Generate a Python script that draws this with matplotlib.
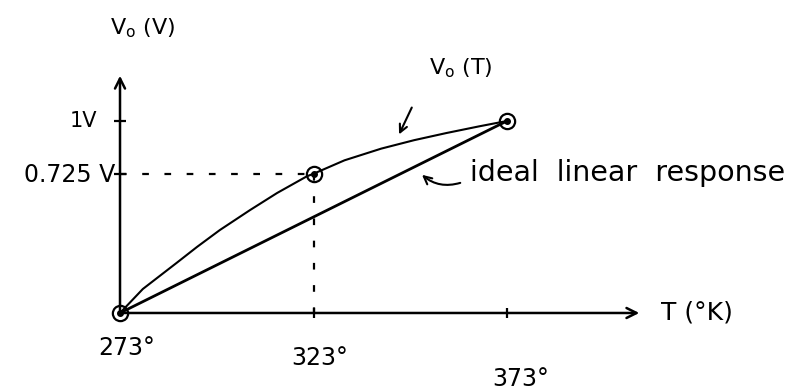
import matplotlib
matplotlib.use("Agg")
import matplotlib.pyplot as plt

# ---- data ----
T_points = [273, 323, 373]
V_points = [0.0, 0.725, 1.0]

# measured response curve V0(T)
T_curve = [273, 278.9, 287.7, 292.9, 298.8, 306.6, 313.6, 321.3, 323, 331.0, 340.5, 349.0, 357.3, 365.8, 373]
V_curve = [0.0, 0.125, 0.262, 0.344, 0.432, 0.536, 0.625, 0.712, 0.725, 0.795, 0.856, 0.900, 0.937, 0.972, 1.0]

# ideal linear response
T_ideal = [273, 373]
V_ideal = [0.0, 1.0]

x_tick_labels = ["273°", "323°", "373°"]
y_tick_values = [1.0, 0.725]
y_tick_labels = ["1V", "0.725 V"]

fig = plt.figure(figsize=(7.93, 3.92), dpi=100)
ax = fig.add_axes([0, 0, 1, 1])
ax.set_xlim(241.99, 446.9)
ax.set_ylim(-0.4115, 1.630)
ax.axis("off")

ink = "black"

# axes with arrows
ax.annotate("", xy=(407.9, 0), xytext=(273, 0),
            arrowprops=dict(arrowstyle="->", lw=1.8, color=ink, mutation_scale=18))
ax.annotate("", xy=(273, 1.25), xytext=(273, 0),
            arrowprops=dict(arrowstyle="->", lw=1.8, color=ink, mutation_scale=18))

# tick marks
ax.plot(T_points[1:], [0, 0], ls="none", marker="|", ms=7, mew=1.6, color=ink)
ax.plot([273] * len(y_tick_values), y_tick_values, ls="none", marker="_", ms=9, mew=1.6, color=ink)

# dashed guide lines
ax.plot([273, T_points[1]], [V_points[1], V_points[1]], ls=(0, (3, 7)), lw=1.6, color=ink)
ax.plot([T_points[1], T_points[1]], [V_points[1], 0], ls=(0, (3, 7)), lw=1.6, color=ink)

# curves
ax.plot(T_ideal, V_ideal, color=ink, lw=2.0, solid_capstyle="round")
ax.plot(T_curve, V_curve, color=ink, lw=1.5, solid_joinstyle="round")

# circled points
ax.plot(T_points, V_points, ls="none", marker="o", ms=11, mfc="none", mec=ink, mew=1.6)
ax.plot(T_points, V_points, ls="none", marker="o", ms=4, color=ink)

fs = 17
# axis labels
ax.text(278.9, 1.484, r"V$_\mathrm{o}$ (V)", fontsize=fs - 1, ha="center", va="center")
ax.text(422.1, 0.005, "T (°K)", fontsize=fs + 1, ha="center", va="center")

# y tick labels
ax.text(267.1, y_tick_values[0], y_tick_labels[0], fontsize=fs - 2, ha="right", va="center")
ax.text(271.7, y_tick_values[1] - 0.005, y_tick_labels[1], fontsize=fs, ha="right", va="center")

# x tick labels
ax.text(274.8, -0.182, x_tick_labels[0], fontsize=fs, ha="center", va="center")
ax.text(324.7, -0.234, x_tick_labels[1], fontsize=fs, ha="center", va="center")
ax.text(376.5, -0.345, x_tick_labels[2], fontsize=fs, ha="center", va="center")

# curve annotations
ax.text(361.1, 1.276, r"V$_\mathrm{o}$ (T)", fontsize=fs - 1, ha="center", va="center")
ax.annotate("", xy=(344.8, 0.917), xytext=(348.7, 1.083),
            arrowprops=dict(arrowstyle="->", lw=1.5, color=ink, mutation_scale=14))
ax.annotate("", xy=(350.5, 0.729), xytext=(361.6, 0.682),
            arrowprops=dict(arrowstyle="->", lw=1.5, color=ink, mutation_scale=14,
                            connectionstyle="arc3,rad=-0.3"))
ax.text(363.4, 0.729, "ideal  linear  response", fontsize=20.5, ha="left", va="center")

fig.savefig("out.png", dpi=100)
